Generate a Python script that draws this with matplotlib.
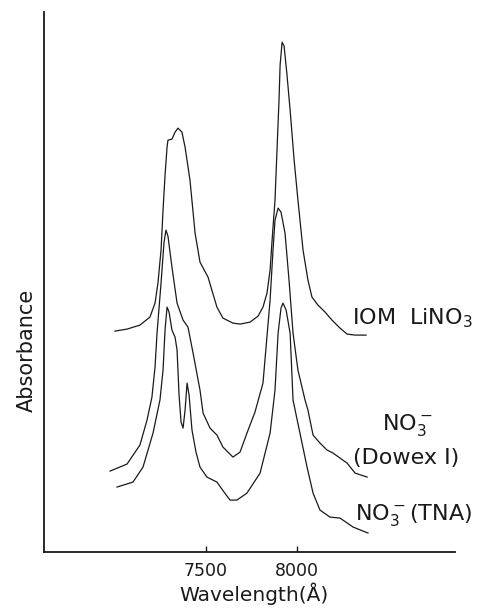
import matplotlib.pyplot as plt
import numpy as np

# spectra (wavelength in A, absorbance in arbitrary units)
lino3_wl = [7000, 7066, 7137, 7192, 7220, 7236, 7253, 7264, 7275, 7286, 7291, 7313, 7330, 7346,
            7368, 7385, 7412, 7440, 7467, 7511, 7560, 7593, 7648, 7687, 7742, 7786, 7813, 7835,
            7852, 7863, 7879, 7890, 7901, 7907, 7918, 7929, 7945, 7962, 7984, 8005, 8033, 8060,
            8082, 8115, 8154, 8192, 8236, 8275, 8319, 8379]
lino3_abs = [2.21, 2.23, 2.27, 2.35, 2.49, 2.69, 3.02, 3.42, 3.77, 4.05, 4.12, 4.13, 4.20, 4.24,
             4.20, 4.05, 3.72, 3.19, 2.90, 2.75, 2.45, 2.34, 2.29, 2.28, 2.30, 2.36, 2.45, 2.59,
             2.82, 3.12, 3.52, 4.02, 4.52, 4.87, 5.10, 5.06, 4.77, 4.42, 3.92, 3.52, 3.02, 2.72,
             2.55, 2.47, 2.40, 2.32, 2.24, 2.18, 2.17, 2.17]

dowex_wl = [6973, 7066, 7137, 7176, 7203, 7220, 7231, 7253, 7269, 7280, 7291, 7313, 7341, 7374,
            7401, 7429, 7467, 7484, 7522, 7560, 7593, 7648, 7687, 7725, 7769, 7813, 7852, 7868,
            7879, 7896, 7912, 7934, 7956, 7978, 8005, 8044, 8060, 8088, 8126, 8165, 8198, 8236,
            8275, 8319, 8385]
dowex_abs = [0.81, 0.88, 1.07, 1.32, 1.55, 1.85, 2.19, 2.69, 3.09, 3.22, 3.16, 2.85, 2.49, 2.32,
             2.25, 1.99, 1.62, 1.39, 1.24, 1.17, 1.05, 0.95, 1.00, 1.19, 1.40, 1.69, 2.52, 3.02,
             3.32, 3.44, 3.40, 3.19, 2.72, 2.19, 1.82, 1.52, 1.42, 1.17, 1.09, 1.02, 0.99, 0.94,
             0.89, 0.79, 0.75]

tna_wl = [7011, 7099, 7154, 7209, 7247, 7264, 7275, 7286, 7297, 7313, 7330, 7341, 7352, 7363,
          7374, 7385, 7396, 7407, 7423, 7445, 7467, 7505, 7560, 7599, 7632, 7670, 7725, 7797,
          7852, 7879, 7896, 7912, 7923, 7940, 7962, 7978, 8016, 8055, 8088, 8126, 8181, 8236,
          8308, 8390]
tna_abs = [0.65, 0.70, 0.85, 1.19, 1.52, 1.82, 2.22, 2.45, 2.40, 2.22, 2.15, 2.02, 1.57, 1.30,
           1.24, 1.42, 1.69, 1.57, 1.22, 1.00, 0.85, 0.75, 0.70, 0.60, 0.52, 0.52, 0.59, 0.79,
           1.19, 1.62, 2.19, 2.44, 2.49, 2.42, 2.19, 1.52, 1.19, 0.85, 0.59, 0.42, 0.35, 0.34,
           0.25, 0.19]

xticks = [7500, 8000]

fig = plt.figure(figsize=(4.78, 6.08), dpi=100)
ax = fig.add_axes([0.092, 0.092, 0.86, 0.888])

ink = '#1a1a1a'
for wl, ab in [(lino3_wl, lino3_abs), (dowex_wl, dowex_abs), (tna_wl, tna_abs)]:
    ax.plot(wl, ab, color=ink, lw=0.9, solid_joinstyle='round')

ax.set_xlim(6610, 8868)
ax.set_ylim(0, 5.40)
ax.spines['top'].set_visible(False)
ax.spines['right'].set_visible(False)
for side in ['left', 'bottom']:
    ax.spines[side].set_linewidth(1.3)
    ax.spines[side].set_color(ink)
ax.set_yticks([])
ax.set_xticks(xticks)
ax.set_xticklabels([str(t) for t in xticks])
ax.tick_params(axis='x', direction='in', length=4, width=1, pad=7, labelsize=12.5, colors=ink)

# curve labels
ax.text(8302, 2.34, 'IOM  LiNO$_3$', fontsize=16, ha='left', va='center', color=ink)
ax.text(8604, 1.27, 'NO$_3^-$', fontsize=16, ha='center', va='center', color=ink)
ax.text(8308, 0.94, '(Dowex I)', fontsize=16, ha='left', va='center', color=ink)
ax.text(8319, 0.37, 'NO$_3^-$(TNA)', fontsize=16, ha='left', va='center', color=ink)

fig.text(254 / 478, 1 - 594 / 608, 'Wavelength(Å)', fontsize=14.5, ha='center', va='center', color=ink)
fig.text(27 / 478, 1 - 350 / 608, 'Absorbance', fontsize=15, rotation=90, ha='center', va='center', color=ink)

fig.savefig('out.png', dpi=100)
